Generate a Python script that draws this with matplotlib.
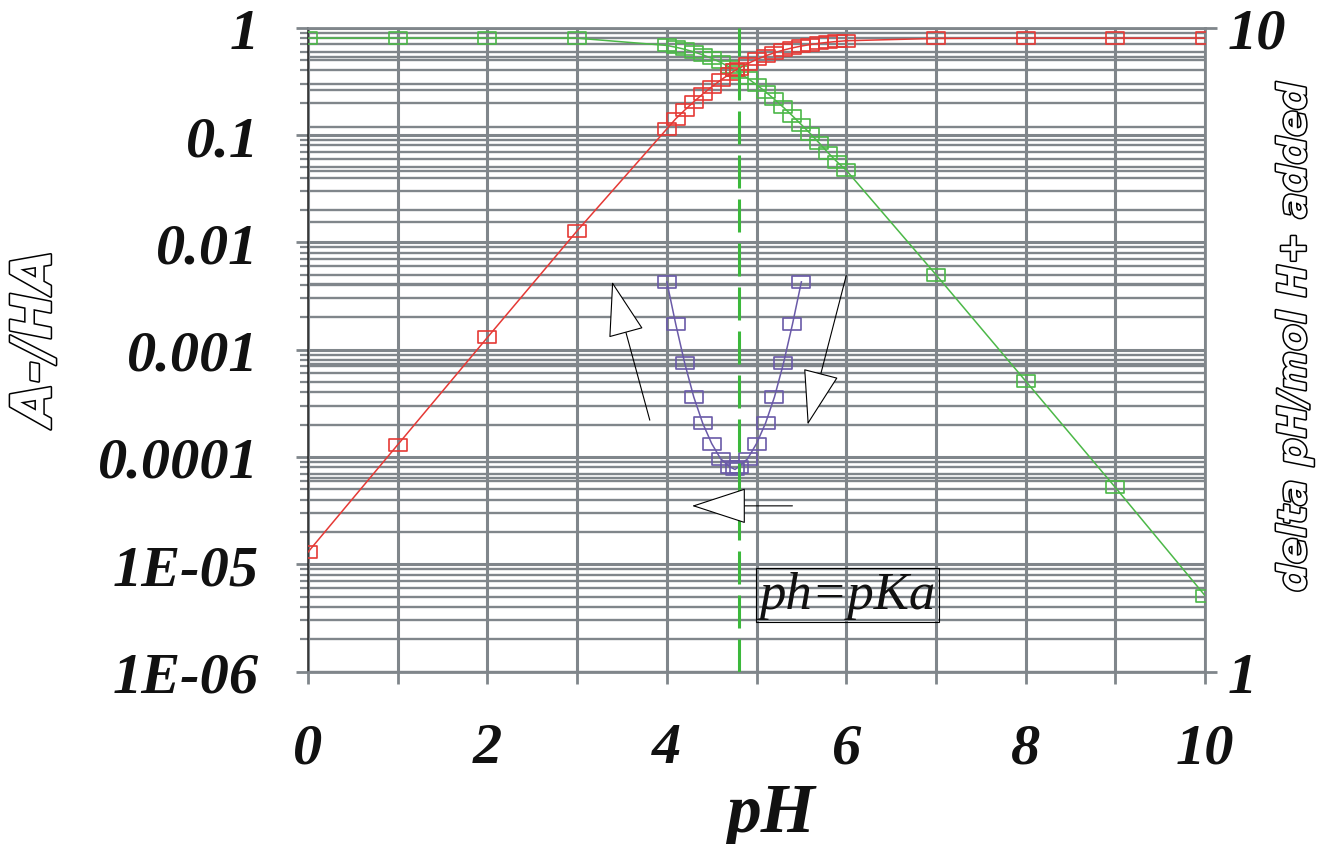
import matplotlib

matplotlib.use("Agg")

import matplotlib.patheffects as pe  # noqa: E402
import matplotlib.pyplot as plt  # noqa: E402
import numpy as np  # noqa: E402
from matplotlib.path import Path  # noqa: E402
from matplotlib.ticker import LogLocator, NullFormatter  # noqa: E402

# species fractions (left log axis)
ph = [0, 1, 2, 3, 4.0, 4.1, 4.2, 4.3, 4.4, 4.5, 4.6, 4.7, 4.76, 4.8, 4.9, 5.0,
      5.1, 5.2, 5.3, 5.4, 5.5, 5.6, 5.7, 5.8, 5.9, 6.0, 7, 8, 9, 10]
a_minus = [1.3e-5, 1.3e-4, 1.3e-3, 0.0128, 0.114, 0.142, 0.171, 0.204, 0.241, 0.281,
           0.325, 0.370, 0.400, 0.416, 0.462, 0.506, 0.547, 0.585, 0.619, 0.649,
           0.675, 0.697, 0.716, 0.732, 0.745, 0.756, 0.795, 0.800, 0.800, 0.800]
ha = [0.800, 0.800, 0.800, 0.799, 0.684, 0.658, 0.629, 0.596, 0.559, 0.519,
      0.475, 0.430, 0.400, 0.384, 0.338, 0.294, 0.253, 0.215, 0.181, 0.151,
      0.125, 0.103, 0.084, 0.068, 0.056, 0.047, 0.0050, 5.1e-4, 5.2e-5, 5.1e-6]

# buffer curve (right log axis)
buf_ph = [4.0, 4.1, 4.2, 4.3, 4.4, 4.5, 4.6, 4.7, 4.76, 4.8, 4.9, 5.0, 5.1, 5.2, 5.3, 5.4, 5.5]
buf_val = [4.03, 3.46, 3.01, 2.67, 2.43, 2.26, 2.14, 2.08, 2.06, 2.08, 2.14, 2.26,
           2.43, 2.67, 3.01, 3.46, 4.03]

pka_line = 4.8
x_ticks = list(range(0, 11))
x_tick_labels = ["0", "", "2", "", "4", "", "6", "", "8", "", "10"]
y_ticks = [1, 0.1, 0.01, 0.001, 0.0001, 1e-5, 1e-6]
y_tick_labels = ["1", "0.1", "0.01", "0.001", "0.0001", "1E-05", "1E-06"]
y2_ticks = [1, 10]
y2_tick_labels = ["1", "10"]

GRID = "#80868b"
RED = "#e53935"
GREEN = "#4cb848"
PURPLE = "#6a5aa8"
INK = "#111111"

tick_font = dict(family="Liberation Serif", weight="bold", style="italic", size=42, color=INK)
outline = [pe.withStroke(linewidth=2.2, foreground="black")]

box = Path([(-1, -0.72), (1, -0.72), (1, 0.72), (-1, 0.72), (-1, -0.72)],
           [Path.MOVETO, Path.LINETO, Path.LINETO, Path.LINETO, Path.CLOSEPOLY])

fig = plt.figure(figsize=(13.21, 8.45), dpi=100)
ax = fig.add_axes([0.2332, 0.2041, 0.6790, 0.7619])
ax2 = ax.twinx()
ax.set_zorder(ax2.get_zorder() + 1)
ax.patch.set_visible(False)

ax.set_yscale("log")
ax.set_xlim(0, 10)
ax.set_ylim(1e-6, 1)
ax2.set_yscale("log")
ax2.set_ylim(1, 10)

ax.yaxis.set_minor_locator(LogLocator(base=10, subs=np.arange(2, 10), numticks=100))
ax.yaxis.set_minor_formatter(NullFormatter())
ax2.yaxis.set_minor_locator(LogLocator(base=10, subs=np.arange(2, 10), numticks=100))
ax2.yaxis.set_minor_formatter(NullFormatter())

ax.set_xticks(x_ticks, x_tick_labels, **tick_font)
ax.set_yticks(y_ticks, y_tick_labels, **tick_font)
ax2.set_yticks(y2_ticks, y2_tick_labels, **tick_font)

ax.tick_params(axis="x", which="major", direction="out", length=8.5, width=2, color=GRID, pad=28)
ax.tick_params(axis="y", which="major", direction="out", length=8.5, width=2, color=GRID, pad=27)
ax.tick_params(axis="y", which="minor", direction="out", length=5.5, width=1.6, color=GRID)
ax2.tick_params(axis="y", which="major", direction="out", length=8.5, width=2, color=GRID, pad=8)
ax2.tick_params(axis="y", which="minor", length=0)

ax.set_axisbelow(True)
ax.grid(True, which="major", axis="both", color=GRID, lw=2.2)
ax.grid(True, which="minor", axis="y", color=GRID, lw=1.7)
ax2.grid(True, which="both", axis="y", color=GRID, lw=1.7)

for s in ["top", "right", "bottom"]:
    ax.spines[s].set_color(GRID)
    ax.spines[s].set_linewidth(2)
ax.spines["left"].set_color("#222222")
ax.spines["left"].set_linewidth(1.1)
for s in ax2.spines.values():
    s.set_visible(False)

mk = dict(marker=box, ms=12.5, mfc="none", mew=1.2, lw=1.1)
ax.plot(ph, a_minus, color=RED, mec=RED, zorder=4, **mk)
ax.plot(ph, ha, color=GREEN, mec=GREEN, zorder=3, **mk)
ax.plot(buf_ph, buf_val, color=PURPLE, mec=PURPLE, zorder=4, transform=ax2.transData, **mk)

ax.axvline(pka_line, color="#3cb83c", lw=2.2, dashes=(10.8, 3.6), zorder=5)

# hand-drawn style arrows
arrow = dict(arrowstyle="-|>,head_length=2.6,head_width=0.85", mutation_scale=14,
             fc="white", ec="black", lw=0.8, shrinkA=0, shrinkB=0)
ax.annotate("", xy=(3.39, 4.3e-3), xytext=(3.81, 2.2e-4), arrowprops=arrow, zorder=6)
ax.annotate("", xy=(5.57, 2.0e-4), xytext=(6.0, 4.9e-3), arrowprops=arrow, zorder=6)
ax.annotate("", xy=(4.28, 3.5e-5), xytext=(5.4, 3.5e-5), arrowprops=arrow, zorder=6)

ax.text(5.03, 3.9e-6, "ph=pKa", family="Liberation Serif", style="italic", size=38,
        color=INK, ha="left", va="baseline", zorder=6,
        bbox=dict(boxstyle="square,pad=0.06", fc="none", ec="black", lw=0.8))

ax.set_xlabel("pH", fontdict=dict(tick_font, size=50))
ax.xaxis.set_label_coords(0.517, -0.172)

fig.text(0.027, 0.599, "A-/HA", rotation=90, ha="center", va="center",
         family="DejaVu Sans", weight="bold", style="italic", size=40,
         color="white", path_effects=outline)
fig.text(0.980, 0.600, "delta pH/mol H+ added", rotation=90, ha="center", va="center",
         family="DejaVu Sans", weight="bold", style="italic", size=28,
         color="white", path_effects=outline)

fig.savefig("out.png", dpi=100)
